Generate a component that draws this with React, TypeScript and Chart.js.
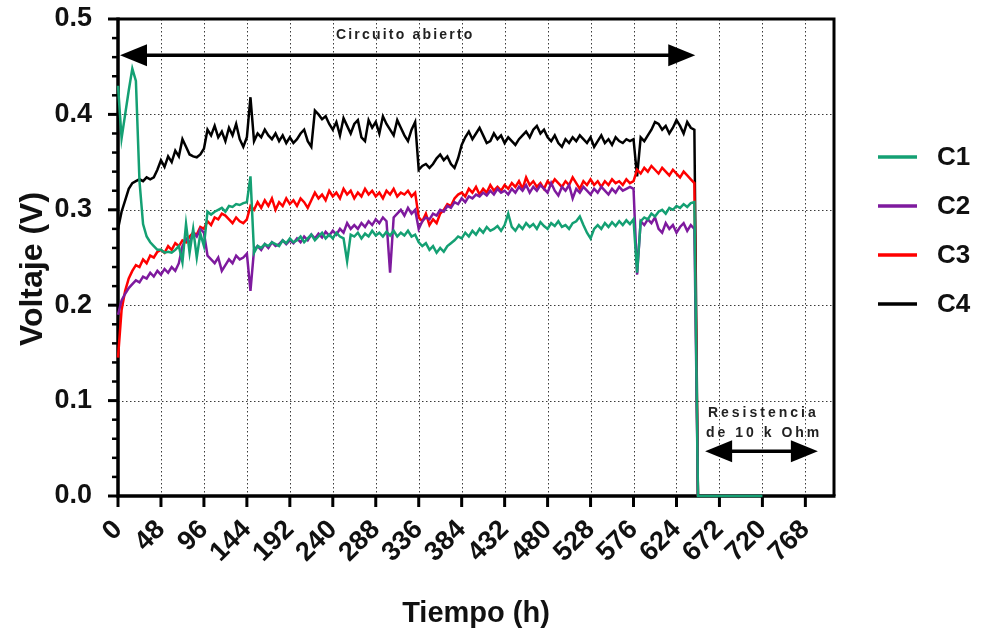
import React, { useEffect, useRef } from "react";
import { Chart, registerables } from "chart.js";

Chart.register(...registerables);

// ---- data (sampled every 4 h) ----
const STEP_H = 4;
const C1_VALUES = [
  0.430, 0.375, 0.400, 0.425, 0.448, 0.435, 0.330, 0.285, 0.272, 0.266, 0.262, 0.258,
  0.258, 0.255, 0.256, 0.255, 0.258, 0.262, 0.245, 0.285, 0.255, 0.280, 0.250, 0.275,
  0.262, 0.298, 0.295, 0.298, 0.300, 0.302, 0.298, 0.304, 0.303, 0.306, 0.305, 0.307,
  0.308, 0.335, 0.255, 0.262, 0.260, 0.264, 0.262, 0.266, 0.264, 0.262, 0.268, 0.265,
  0.270, 0.266, 0.268, 0.272, 0.266, 0.270, 0.274, 0.268, 0.272, 0.276, 0.270, 0.274,
  0.270, 0.276, 0.272, 0.270, 0.246, 0.274, 0.272, 0.276, 0.270, 0.275, 0.272, 0.278,
  0.273, 0.276, 0.272, 0.277, 0.273, 0.278, 0.272, 0.276, 0.273, 0.278, 0.272, 0.274,
  0.266, 0.262, 0.265, 0.258, 0.262, 0.255, 0.260, 0.256, 0.262, 0.265, 0.268, 0.272,
  0.270, 0.276, 0.272, 0.278, 0.274, 0.280, 0.276, 0.282, 0.278, 0.280, 0.283, 0.278,
  0.284, 0.296, 0.282, 0.278, 0.284, 0.280, 0.286, 0.282, 0.285, 0.280, 0.287, 0.283,
  0.280, 0.286, 0.283, 0.288, 0.282, 0.284, 0.280, 0.286, 0.288, 0.293, 0.284, 0.276,
  0.270, 0.280, 0.284, 0.280, 0.286, 0.282, 0.287, 0.283, 0.288, 0.284, 0.289, 0.285,
  0.290, 0.234, 0.288, 0.292, 0.290, 0.296, 0.293, 0.298, 0.300, 0.296, 0.302, 0.300,
  0.304, 0.302, 0.306, 0.303, 0.307, 0.308, 0, 0, 0, 0, 0, 0,
  0, 0, 0, 0, 0, 0, 0, 0, 0, 0, 0, 0,
  0,
];
const C2_VALUES = [
  0.190, 0.205, 0.212, 0.218, 0.222, 0.226, 0.224, 0.230, 0.228, 0.234, 0.230, 0.236,
  0.232, 0.238, 0.234, 0.240, 0.236, 0.244, 0.262, 0.270, 0.265, 0.276, 0.272, 0.280,
  0.276, 0.252, 0.248, 0.244, 0.250, 0.236, 0.242, 0.248, 0.244, 0.252, 0.248, 0.250,
  0.254, 0.215, 0.258, 0.262, 0.258, 0.264, 0.260, 0.266, 0.262, 0.264, 0.268, 0.264,
  0.268, 0.265, 0.270, 0.266, 0.272, 0.268, 0.274, 0.270, 0.275, 0.271, 0.277, 0.273,
  0.278, 0.274, 0.280, 0.276, 0.286, 0.280, 0.284, 0.280, 0.286, 0.282, 0.288, 0.284,
  0.290, 0.286, 0.292, 0.288, 0.234, 0.292, 0.296, 0.300, 0.294, 0.302, 0.296, 0.300,
  0.280, 0.288, 0.292, 0.290, 0.296, 0.294, 0.300, 0.298, 0.304, 0.302, 0.308, 0.306,
  0.312, 0.308, 0.314, 0.312, 0.316, 0.314, 0.318, 0.315, 0.320, 0.316, 0.322, 0.318,
  0.320, 0.316, 0.322, 0.318, 0.324, 0.320, 0.326, 0.318, 0.324, 0.320, 0.326, 0.322,
  0.318, 0.328, 0.320, 0.315, 0.324, 0.320, 0.326, 0.312, 0.322, 0.318, 0.324, 0.320,
  0.316, 0.322, 0.318, 0.324, 0.320, 0.316, 0.322, 0.318, 0.324, 0.320, 0.322, 0.324,
  0.322, 0.232, 0.288, 0.284, 0.290, 0.286, 0.292, 0.280, 0.276, 0.286, 0.280, 0.284,
  0.276, 0.282, 0.286, 0.278, 0.284, 0.280, 0,
];
const C3_VALUES = [
  0.145, 0.195, 0.215, 0.228, 0.236, 0.242, 0.240, 0.248, 0.244, 0.252, 0.250, 0.256,
  0.258, 0.255, 0.262, 0.258, 0.265, 0.262, 0.268, 0.266, 0.272, 0.276, 0.274, 0.282,
  0.280, 0.288, 0.284, 0.292, 0.290, 0.296, 0.294, 0.290, 0.286, 0.292, 0.288, 0.286,
  0.290, 0.304, 0.300, 0.308, 0.302, 0.310, 0.304, 0.312, 0.300, 0.308, 0.304, 0.312,
  0.306, 0.310, 0.304, 0.312, 0.308, 0.302, 0.310, 0.318, 0.312, 0.316, 0.310, 0.320,
  0.314, 0.318, 0.312, 0.322, 0.316, 0.320, 0.312, 0.318, 0.314, 0.322, 0.316, 0.320,
  0.314, 0.318, 0.312, 0.320, 0.316, 0.322, 0.314, 0.318, 0.316, 0.320, 0.314, 0.318,
  0.292, 0.288, 0.296, 0.284, 0.290, 0.286, 0.296, 0.300, 0.306, 0.304, 0.312, 0.316,
  0.318, 0.314, 0.322, 0.318, 0.324, 0.316, 0.322, 0.318, 0.326, 0.320, 0.324, 0.320,
  0.326, 0.322, 0.328, 0.324, 0.330, 0.322, 0.334, 0.326, 0.330, 0.324, 0.328, 0.322,
  0.330, 0.326, 0.332, 0.328, 0.324, 0.330, 0.326, 0.334, 0.328, 0.322, 0.330, 0.326,
  0.332, 0.326, 0.330, 0.324, 0.330, 0.326, 0.332, 0.328, 0.330, 0.326, 0.332, 0.328,
  0.330, 0.342, 0.338, 0.344, 0.340, 0.346, 0.342, 0.338, 0.344, 0.340, 0.336, 0.342,
  0.338, 0.334, 0.340, 0.336, 0.332, 0.328, 0,
];
const C4_VALUES = [
  0.280, 0.298, 0.310, 0.322, 0.328, 0.330, 0.332, 0.330, 0.334, 0.332, 0.334, 0.342,
  0.352, 0.345, 0.356, 0.350, 0.362, 0.356, 0.374, 0.366, 0.358, 0.356, 0.355, 0.358,
  0.364, 0.384, 0.378, 0.388, 0.376, 0.382, 0.372, 0.386, 0.378, 0.390, 0.374, 0.366,
  0.376, 0.418, 0.372, 0.380, 0.376, 0.384, 0.378, 0.374, 0.380, 0.372, 0.378, 0.370,
  0.376, 0.370, 0.374, 0.380, 0.384, 0.372, 0.366, 0.404, 0.400, 0.395, 0.398, 0.390,
  0.384, 0.392, 0.378, 0.396, 0.388, 0.380, 0.390, 0.394, 0.376, 0.372, 0.394, 0.386,
  0.392, 0.380, 0.398, 0.390, 0.384, 0.378, 0.394, 0.386, 0.378, 0.372, 0.384, 0.392,
  0.342, 0.346, 0.348, 0.344, 0.348, 0.354, 0.358, 0.352, 0.356, 0.348, 0.344, 0.354,
  0.368, 0.376, 0.382, 0.374, 0.380, 0.386, 0.378, 0.370, 0.372, 0.380, 0.374, 0.378,
  0.370, 0.376, 0.372, 0.368, 0.374, 0.378, 0.382, 0.376, 0.384, 0.388, 0.380, 0.384,
  0.376, 0.372, 0.378, 0.370, 0.366, 0.374, 0.370, 0.376, 0.372, 0.378, 0.374, 0.370,
  0.376, 0.366, 0.372, 0.378, 0.370, 0.374, 0.368, 0.376, 0.372, 0.370, 0.374, 0.372,
  0.374, 0.335, 0.376, 0.372, 0.378, 0.384, 0.392, 0.390, 0.384, 0.388, 0.380, 0.386,
  0.394, 0.388, 0.380, 0.392, 0.386, 0.384, 0,
];

const SERIES_NAMES = ["C1", "C2", "C3", "C4"];
const SERIES_VALUES = [C1_VALUES, C2_VALUES, C3_VALUES, C4_VALUES];
const SERIES_COLORS = ["#14A073", "#7E1A9E", "#FF0000", "#000000"];

const X_TICKS = [0, 48, 96, 144, 192, 240, 288, 336, 384, 432, 480, 528, 576, 624, 672, 720, 768];
const X_MAX = 800;
const Y_TICKS = [0, 0.1, 0.2, 0.3, 0.4, 0.5];
const Y_MINOR_STEP = 0.02;

const X_TITLE = "Tiempo (h)";
const Y_TITLE = "Voltaje (V)";

// annotations (data coordinates)
const OPEN_ARROW = { from: 0, to: 645, y: 0.462 };
const OPEN_LABEL = { text: "Circuito abierto", x: 321, y: 0.479 };
const RES_ARROW = { from: 656, to: 782, y: 0.047 };
const RES_LABELS = [
  { text: "Resistencia", x: 721, y: 0.083 },
  { text: "de 10 k Ohm", x: 722, y: 0.062 },
];

const FONT = "'Liberation Sans', Arial, Helvetica, sans-serif";

function drawDoubleArrow(ctx: CanvasRenderingContext2D, x1: number, x2: number, y: number) {
  const headLen = 27;
  const headHalf = 11;
  ctx.save();
  ctx.strokeStyle = "#000";
  ctx.fillStyle = "#000";
  ctx.lineWidth = 3.5;
  ctx.beginPath();
  ctx.moveTo(x1 + headLen - 2, y);
  ctx.lineTo(x2 - headLen + 2, y);
  ctx.stroke();
  ctx.beginPath();
  ctx.moveTo(x1, y);
  ctx.lineTo(x1 + headLen, y - headHalf);
  ctx.lineTo(x1 + headLen, y + headHalf);
  ctx.closePath();
  ctx.fill();
  ctx.beginPath();
  ctx.moveTo(x2, y);
  ctx.lineTo(x2 - headLen, y - headHalf);
  ctx.lineTo(x2 - headLen, y + headHalf);
  ctx.closePath();
  ctx.fill();
  ctx.restore();
}

const framePlugin = {
  id: "framePlugin",
  beforeDatasetsDraw(chart: any) {
    const { ctx, chartArea: a, scales } = chart;
    const x = scales.x;
    const y = scales.y;
    ctx.save();
    // dotted grid
    ctx.strokeStyle = "#3a3a3a";
    ctx.lineWidth = 1;
    ctx.setLineDash([1.5, 2.5]);
    for (const v of X_TICKS) {
      if (v <= 0) continue;
      const px = Math.round(x.getPixelForValue(v)) + 0.5;
      ctx.beginPath();
      ctx.moveTo(px, a.top);
      ctx.lineTo(px, a.bottom);
      ctx.stroke();
    }
    for (const v of Y_TICKS) {
      if (v <= 0 || v >= 0.5) continue;
      const py = Math.round(y.getPixelForValue(v)) + 0.5;
      ctx.beginPath();
      ctx.moveTo(a.left, py);
      ctx.lineTo(a.right, py);
      ctx.stroke();
    }
    ctx.setLineDash([]);
    ctx.strokeStyle = "#000";
    // frame top & right
    ctx.lineWidth = 3;
    ctx.beginPath();
    ctx.moveTo(a.left, a.top);
    ctx.lineTo(a.right, a.top);
    ctx.lineTo(a.right, a.bottom);
    ctx.stroke();
    // axes
    ctx.lineWidth = 3.5;
    ctx.beginPath();
    ctx.moveTo(a.left, a.top - 1.5);
    ctx.lineTo(a.left, a.bottom);
    ctx.lineTo(a.right + 1.5, a.bottom);
    ctx.stroke();
    // y major ticks
    ctx.lineWidth = 3;
    for (const v of Y_TICKS) {
      const py = y.getPixelForValue(v);
      ctx.beginPath();
      ctx.moveTo(a.left - 10, py);
      ctx.lineTo(a.left, py);
      ctx.stroke();
    }
    // y minor ticks
    ctx.lineWidth = 2.5;
    const nMinor = Math.round(0.5 / Y_MINOR_STEP);
    for (let k = 0; k <= nMinor; k++) {
      if (k % 5 === 0) continue;
      const py = y.getPixelForValue(k * Y_MINOR_STEP);
      ctx.beginPath();
      ctx.moveTo(a.left - 6, py);
      ctx.lineTo(a.left, py);
      ctx.stroke();
    }
    // x ticks
    ctx.lineWidth = 3;
    for (const v of X_TICKS) {
      const px = x.getPixelForValue(v);
      ctx.beginPath();
      ctx.moveTo(px, a.bottom);
      ctx.lineTo(px, a.bottom + 11);
      ctx.stroke();
    }
    ctx.restore();
  },
  afterDatasetsDraw(chart: any) {
    const { ctx, chartArea: a, scales } = chart;
    const x = scales.x;
    const y = scales.y;
    ctx.save();
    // arrows
    drawDoubleArrow(ctx, x.getPixelForValue(OPEN_ARROW.from) + 2, x.getPixelForValue(OPEN_ARROW.to), y.getPixelForValue(OPEN_ARROW.y));
    drawDoubleArrow(ctx, x.getPixelForValue(RES_ARROW.from), x.getPixelForValue(RES_ARROW.to), y.getPixelForValue(RES_ARROW.y));
    // annotation labels
    ctx.fillStyle = "#222";
    ctx.textAlign = "center";
    ctx.textBaseline = "alphabetic";
    ctx.font = `bold 14px ${FONT}`;
    (ctx as any).letterSpacing = "2.2px";
    ctx.fillText(OPEN_LABEL.text, x.getPixelForValue(OPEN_LABEL.x), y.getPixelForValue(OPEN_LABEL.y));
    (ctx as any).letterSpacing = "3px";
    for (const l of RES_LABELS) {
      ctx.fillText(l.text, x.getPixelForValue(l.x), y.getPixelForValue(l.y));
    }
    (ctx as any).letterSpacing = "0px";
    // axis titles
    ctx.fillStyle = "#111";
    ctx.font = `bold 29px ${FONT}`;
    ctx.textAlign = "center";
    ctx.fillText(X_TITLE, (a.left + a.right) / 2, 622);
    ctx.save();
    ctx.translate(42, 269);
    ctx.rotate(-Math.PI / 2);
    ctx.font = `bold 32px ${FONT}`;
    ctx.fillText(Y_TITLE, 0, 0);
    ctx.restore();
    // legend
    ctx.textAlign = "left";
    ctx.textBaseline = "middle";
    ctx.font = `bold 26px ${FONT}`;
    SERIES_NAMES.forEach((name, i) => {
      const ly = 157 + 49 * i;
      ctx.strokeStyle = SERIES_COLORS[i];
      ctx.lineWidth = 3.5;
      ctx.beginPath();
      ctx.moveTo(878, ly);
      ctx.lineTo(917, ly);
      ctx.stroke();
      ctx.fillStyle = "#111";
      ctx.fillText(name, 937, ly + 1);
    });
    ctx.restore();
  },
};

export default function App() {
  const canvasRef = useRef<HTMLCanvasElement | null>(null);

  useEffect(() => {
    document.body.style.margin = "0";
    const canvas = canvasRef.current;
    if (!canvas) return;
    const datasets = SERIES_VALUES.map((vals, i) => ({
      label: SERIES_NAMES[i],
      data: vals.map((v, j) => ({ x: j * STEP_H, y: v })),
      borderColor: SERIES_COLORS[i],
      backgroundColor: SERIES_COLORS[i],
      borderWidth: 2.5,
      pointRadius: 0,
      tension: 0,
      fill: false,
      clip: false as any,
    }));
    const chart = new Chart(canvas, {
      type: "line",
      data: { datasets },
      options: {
        animation: false,
        responsive: false,
        devicePixelRatio: 1,
        layout: { padding: { top: 19, right: 147, left: 0, bottom: 0 } },
        plugins: { legend: { display: false }, tooltip: { enabled: false } },
        scales: {
          x: {
            type: "linear",
            min: 0,
            max: X_MAX,
            grid: { display: false },
            border: { display: false },
            afterBuildTicks: (scale: any) => {
              scale.ticks = X_TICKS.map((v) => ({ value: v }));
            },
            afterFit: (scale: any) => {
              scale.height = 134;
              scale.paddingLeft = 0;
              scale.paddingRight = 0;
            },
            ticks: {
              autoSkip: false,
              minRotation: 45,
              maxRotation: 45,
              padding: 10,
              color: "#111",
              font: { family: FONT, size: 27, weight: "bold" },
              callback: (v: any) => String(v),
            },
          },
          y: {
            type: "linear",
            min: 0,
            max: 0.5,
            grid: { display: false },
            border: { display: false },
            afterBuildTicks: (scale: any) => {
              scale.ticks = Y_TICKS.map((v) => ({ value: v }));
            },
            afterFit: (scale: any) => {
              scale.width = 118;
              scale.paddingTop = 0;
              scale.paddingBottom = 0;
            },
            ticks: {
              padding: 18,
              color: "#111",
              font: { family: FONT, size: 27, weight: "bold" },
              callback: (v: any) => Number(v).toFixed(1),
            },
          },
        },
      },
      plugins: [framePlugin],
    } as any);
    return () => chart.destroy();
  }, []);

  return (
    <div style={{ width: 981, height: 630, position: "relative" }}>
      <canvas ref={canvasRef} width={981} height={630} style={{ display: "block" }} />
    </div>
  );
}
